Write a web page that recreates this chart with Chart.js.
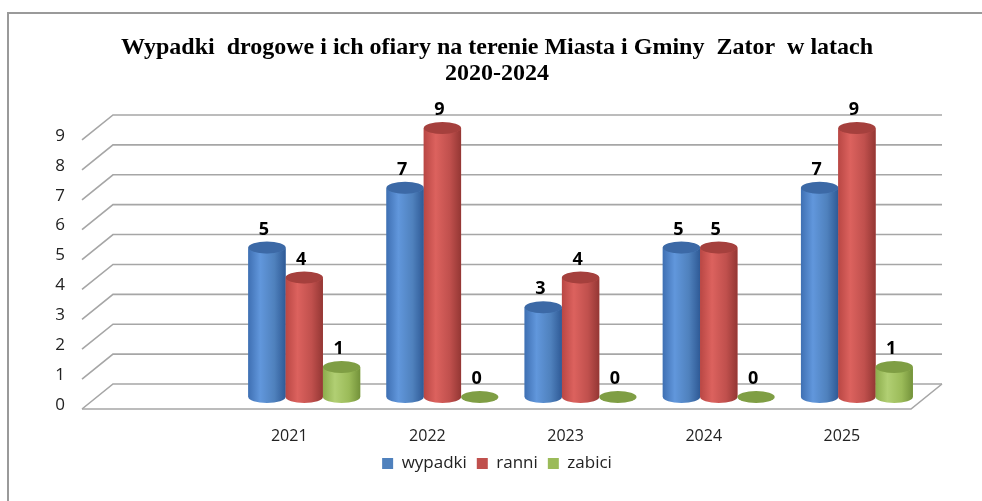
<!DOCTYPE html>
<html>
<head>
<meta charset="utf-8">
<script src="https://cdn.jsdelivr.net/npm/chart.js@4.4.0/dist/chart.umd.min.js"></script>
<style>
  html, body { margin: 0; padding: 0; background: #fff; }
  #wrap { width: 982px; height: 501px; }
</style>
</head>
<body>
<div id="wrap"><canvas id="chart" width="982" height="501"></canvas></div>
<script>
// dane (pierwsza kategoria jest pusta, jak w oryginale)
const categories = ["", "2021", "2022", "2023", "2024", "2025"];
const wypadki = [null, 5, 7, 3, 5, 7];
const ranni = [null, 4, 9, 4, 5, 9];
const zabici = [null, 1, 0, 0, 0, 1];
const yTicks = [0, 1, 2, 3, 4, 5, 6, 7, 8, 9];

// kolory cylindrow: lewa krawedz, blask, prawa krawedz, wieczko
const shades = [
  { base: "#4f81bd", left: "#3f70b3", light: "#6197dc", right: "#2f5a96", top: "#3c69a6" },
  { base: "#c0504d", left: "#b94744", light: "#dc625e", right: "#943734", top: "#a5403d" },
  { base: "#9bbb59", left: "#8cad4c", light: "#b1cf73", right: "#73923a", top: "#7f9e44" }
];

// przesuniecia glebi 3D wzgledem plaszczyzny slupkow
const FRONT = { dx: -15, dy: 12 };
const BACK = { dx: 16, dy: -13 };

const frame3d = {
  id: "frame3d",
  beforeDraw(chart) {
    const c = chart.ctx;
    c.save();
    c.fillStyle = "#fff";
    c.fillRect(0, 0, chart.width, chart.height);
    c.strokeStyle = "#9a9a9a";
    c.lineWidth = 2;
    c.beginPath();
    c.moveTo(8, chart.height);
    c.lineTo(8, 13);
    c.lineTo(chart.width, 13);
    c.stroke();
    c.restore();
  },
  beforeDatasetsDraw(chart) {
    const c = chart.ctx;
    const area = chart.chartArea;
    const y = chart.scales.y;
    c.save();
    c.strokeStyle = "#a6a6a6";
    c.lineWidth = 1.6;
    yTicks.forEach(function(v) {
      const py = y.getPixelForValue(v);
      c.beginPath();
      c.moveTo(area.left + FRONT.dx, py + FRONT.dy);
      c.lineTo(area.left + BACK.dx, py + BACK.dy);
      c.lineTo(area.right + BACK.dx, py + BACK.dy);
      c.stroke();
    });
    // podloga
    const p0 = y.getPixelForValue(0);
    c.beginPath();
    c.moveTo(area.left + FRONT.dx, p0 + FRONT.dy);
    c.lineTo(area.right + FRONT.dx, p0 + FRONT.dy);
    c.lineTo(area.right + BACK.dx, p0 + BACK.dy);
    c.stroke();
    c.restore();
  },
  afterDatasetsDraw(chart) {
    const c = chart.ctx;
    c.save();
    chart.data.datasets.forEach(function(ds, i) {
      const meta = chart.getDatasetMeta(i);
      const s = shades[i];
      meta.data.forEach(function(bar, j) {
        if (ds.data[j] === null) return;
        const rx = bar.width / 2;
        const ry = 6;
        const cx = bar.x;
        const top = bar.y;
        const base = bar.base;
        const g = c.createLinearGradient(cx - rx, 0, cx + rx, 0);
        g.addColorStop(0, s.left);
        g.addColorStop(0.32, s.light);
        g.addColorStop(0.7, s.base);
        g.addColorStop(1, s.right);
        c.fillStyle = g;
        c.beginPath();
        c.moveTo(cx - rx, top);
        c.lineTo(cx - rx, base);
        c.ellipse(cx, base, rx, ry, 0, Math.PI, 0, true);
        c.lineTo(cx + rx, top);
        c.ellipse(cx, top, rx, ry, 0, 0, Math.PI, false);
        c.closePath();
        c.fill();
        c.fillStyle = s.top;
        c.beginPath();
        c.ellipse(cx, top, rx, ry, 0, 0, Math.PI * 2);
        c.fill();
        // etykieta wartosci
        c.fillStyle = "#000";
        c.font = "bold 18px 'Open Sans', Arial, sans-serif";
        c.textAlign = "center";
        c.textBaseline = "middle";
        c.fillText(String(ds.data[j]), cx - 3, top - 18);
      });
    });
    c.restore();
  }
};

const ctx = document.getElementById("chart").getContext("2d");
const chart = new Chart(ctx, {
  type: "bar",
  data: {
    labels: categories,
    datasets: [
      { label: "wypadki", data: wypadki, backgroundColor: shades[0].base },
      { label: "ranni", data: ranni, backgroundColor: shades[1].base },
      { label: "zabici", data: zabici, backgroundColor: shades[2].base }
    ]
  },
  options: {
    responsive: false,
    animation: false,
    categoryPercentage: 0.81,
    barPercentage: 1.0,
    layout: { padding: { left: 12, right: 0, top: 20, bottom: 19 } },
    plugins: {
      title: {
        display: true,
        text: ["Wypadki  drogowe i ich ofiary na terenie Miasta i Gminy  Zator  w latach", "2020-2024"],
        color: "#000",
        font: { family: "'Liberation Serif', 'Times New Roman', serif", size: 24, weight: "bold", lineHeight: 1.083 },
        padding: { top: 15, bottom: 41 }
      },
      legend: {
        position: "bottom",
        labels: {
          color: "#222",
          boxWidth: 11,
          boxHeight: 11,
          padding: 10,
          font: { family: "'Open Sans', sans-serif", size: 17 }
        }
      },
      tooltip: { enabled: false }
    },
    scales: {
      x: {
        grid: { display: false, drawTicks: false },
        border: { display: false },
        ticks: { color: "#222", padding: 30, labelOffset: -15, font: { family: "'Open Sans', sans-serif", size: 16 } },
        afterFit(scale) { scale.height = 48; }
      },
      y: {
        min: 0,
        max: 9,
        grid: { display: false, drawTicks: false },
        border: { display: false },
        ticks: { stepSize: 1, color: "#222", padding: 32, labelOffset: 8, font: { family: "'Open Sans', sans-serif", size: 17 } },
        afterFit(scale) { scale.width = 85; }
      },
      // pusty margines po prawej (miejsce na glebie 3D)
      yRight: {
        type: "linear",
        position: "right",
        grid: { display: false, drawTicks: false },
        border: { display: false },
        ticks: { display: false },
        afterFit(scale) { scale.width = 56; }
      }
    }
  },
  plugins: [frame3d]
});
</script>
</body>
</html>
